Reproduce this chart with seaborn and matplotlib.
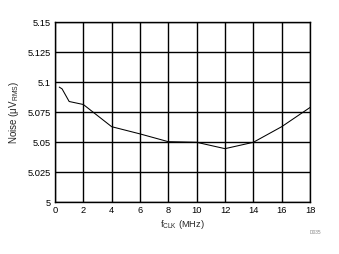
import matplotlib
matplotlib.use("Agg")
import matplotlib.pyplot as plt
import seaborn as sns
import pandas as pd

freq_mhz = [0.3, 0.5, 1.0, 2.0, 4.0, 6.0, 8.0, 10.0, 12.0, 14.0, 16.0, 18.0]
noise_uv = [5.096, 5.0945, 5.084, 5.0815, 5.063, 5.057, 5.0505, 5.0500, 5.0447, 5.0500, 5.063, 5.079]
xticks = [0, 2, 4, 6, 8, 10, 12, 14, 16, 18]
yticks = [5, 5.025, 5.05, 5.075, 5.1, 5.125, 5.15]
ytick_labels = ["5", "5.025", "5.05", "5.075", "5.1", "5.125", "5.15"]

sns.set_style("white")
plt.rcParams["font.family"] = ["Liberation Sans", "DejaVu Sans"]

df = pd.DataFrame({"f": freq_mhz, "n": noise_uv})

fig = plt.figure(figsize=(3.39, 2.54), dpi=100)
ax = fig.add_axes([55/339, 1-202.3/254, (310-55)/339, (202.3-22.3)/254])
sns.lineplot(data=df, x="f", y="n", ax=ax, color="black", linewidth=0.75, zorder=3)

ax.set_xlim(0, 18)
ax.set_ylim(5, 5.15)
ax.set_xticks(xticks)
ax.set_xticklabels([str(t) for t in xticks])
ax.set_yticks(yticks)
ax.set_yticklabels(ytick_labels)
ax.grid(True, color="black", linewidth=1.0)
for s in ax.spines.values():
    s.set_color("black")
    s.set_linewidth(1.0)
ax.tick_params(axis="both", labelsize=6.7, length=0, pad=3, colors="black")
ax.set_xlabel(r"f$_{\mathregular{CLK}}$ (MHz)", fontsize=6.7, labelpad=2)
ax.set_ylabel(r"Noise ($\mathregular{\mu V_{RMS}}$)", fontsize=7, labelpad=5)
fig.text(315/339, 1-232.7/254, "D035", fontsize=3.5, color="#888888", ha="center", va="center")

fig.savefig("out.png", dpi=100)
